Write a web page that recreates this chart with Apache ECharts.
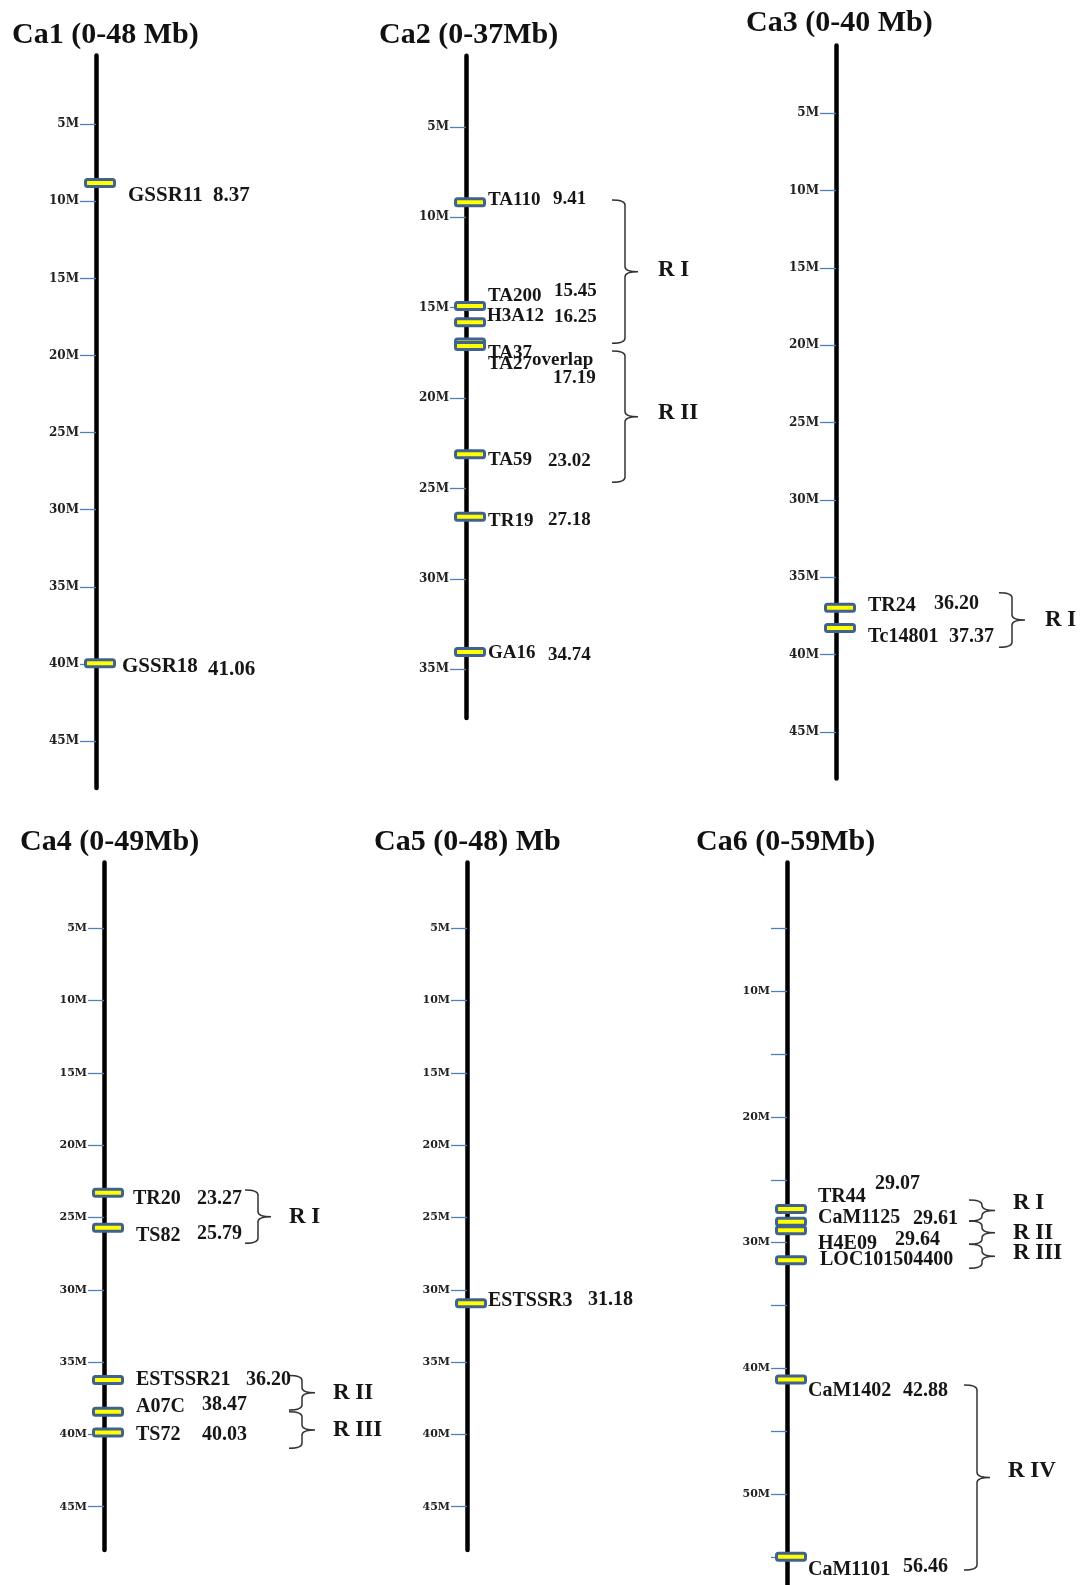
<!DOCTYPE html>
<html><head><meta charset="utf-8">
<script src="https://cdn.jsdelivr.net/npm/echarts@6/dist/echarts.min.js"></script>
<style>html,body{margin:0;padding:0;background:#fff}#chart{width:1081px;height:1585px}</style>
</head><body><div id="chart"></div>
<script>
// ---------------- DATA ----------------
const chromTitles = ['Ca1 (0-48 Mb)', 'Ca2 (0-37Mb)', 'Ca3 (0-40 Mb)', 'Ca4 (0-49Mb)', 'Ca5 (0-48) Mb', 'Ca6 (0-59Mb)'];
const tickValuesStd = [5, 10, 15, 20, 25, 30, 35, 40, 45];
const tickValuesCa6 = [5, 10, 15, 20, 25, 30, 35, 40, 45, 50, 55];
const tickLabelsCa6 = [10, 20, 30, 40, 50];

const ca1Names = ['GSSR11', 'GSSR18'];
const ca1Pos = [8.81, 39.96];
const ca1Values = ['8.37', '41.06'];
const ca1Notes = ['', ''];
const ca1Regions = [];

const ca2Names = ['TA110', 'TA200', 'H3A12', 'TA37', 'TA27', 'TA59', 'TR19', 'GA16'];
const ca2Pos = [9.17, 14.9, 15.8, 16.93, 17.12, 23.1, 26.56, 34.05];
const ca2Values = ['9.41', '15.45', '16.25', '', '17.19', '23.02', '27.18', '34.74'];
const ca2Notes = ['', '', '', '', 'overlap', '', '', ''];
const ca2Regions = [[9.04, 16.97, 'R I'], [17.39, 24.66, 'R II']];

const ca3Names = ['TR24', 'Tc14801'];
const ca3Pos = [36.97, 38.28];
const ca3Values = ['36.20', '37.37'];
const ca3Notes = ['', ''];
const ca3Regions = [[36.0, 39.53, 'R I']];

const ca4Names = ['TR20', 'TS82', 'ESTSSR21', 'A07C', 'TS72'];
const ca4Pos = [23.28, 25.7, 36.24, 38.43, 39.86];
const ca4Values = ['23.27', '25.79', '36.20', '38.47', '40.03'];
const ca4Notes = ['', '', '', '', ''];
const ca4Regions = [[23.1, 26.78, 'R I'], [35.92, 38.31, 'R II'], [38.43, 40.96, 'R III']];

const ca5Names = ['ESTSSR3'];
const ca5Pos = [30.93];
const ca5Values = ['31.18'];
const ca5Notes = [''];
const ca5Regions = [];

const ca6Names = ['TR44', 'CaM1125', 'H4E09', 'LOC101504400', 'CaM1402', 'CaM1101'];
const ca6Pos = [27.33, 28.34, 29.02, 31.4, 40.9, 55.0];
const ca6Values = ['29.07', '29.61', '29.64', '', '42.88', '56.46'];
const ca6Notes = ['', '', '', '', '', ''];
const ca6Regions = [[26.61, 28.28, 'R I'], [28.28, 30.14, 'R II'], [30.14, 32.04, 'R III'], [41.33, 56.05, 'R IV']];

// ---------------- LAYOUT ----------------
// lab: [nameDx, nameDy, valueDx, valueDy, noteDx, noteDy]; reg: [verticalDx, labelDx, labelDy]
const panels = [
  {names: ca1Names, pos: ca1Pos, values: ca1Values, notes: ca1Notes, regions: ca1Regions,
   axisX: 96, top: 55.6, bottom: 788, min: 0.55, max: 48.05, ticks: tickValuesStd, labels: tickValuesStd,
   tickFont: 12, nameFont: 21, titleX: 12, titleY: 35,
   lab: [[32, 13, 117, 13], [26, 3, 112, 6]], reg: []},
  {names: ca2Names, pos: ca2Pos, values: ca2Values, notes: ca2Notes, regions: ca2Regions,
   axisX: 466, top: 55.7, bottom: 718.1, min: 1.06, max: 37.7, ticks: tickValuesStd.slice(0, 7), labels: tickValuesStd.slice(0, 7),
   tickFont: 12, nameFont: 19, titleX: 379, titleY: 35,
   lab: [[22, -2, 87, -3], [22, -10, 88, -15], [21, -6, 88, -5], [22, 10, 0, 0], [22, 18, 87, 32, 66, 14],
         [22, 6, 82, 7], [22, 4, 82, 3], [22, 1, 82, 3]],
   reg: [[159, 192, -2], [159, 192, -4]]},
  {names: ca3Names, pos: ca3Pos, values: ca3Values, notes: ca3Notes, regions: ca3Regions,
   axisX: 836, top: 45.5, bottom: 778.4, min: 0.63, max: 48.0, ticks: tickValuesStd, labels: tickValuesStd,
   tickFont: 12, nameFont: 20, titleX: 746, titleY: 23,
   lab: [[32, -2, 98, -4], [32, 9, 113, 9]], reg: [[176, 209, 0]]},
  {names: ca4Names, pos: ca4Pos, values: ca4Values, notes: ca4Notes, regions: ca4Regions,
   axisX: 104, top: 862.5, bottom: 1550.1, min: 0.45, max: 48.0, ticks: tickValuesStd, labels: tickValuesStd,
   tickFont: 11, nameFont: 20, titleX: 20, titleY: 842,
   lab: [[29, 6, 93, 6], [32, 8, 93, 6], [32, 0, 142, 0], [32, -5, 98, -7], [32, 2, 98, 2]],
   reg: [[154, 185, 0], [198, 229, 0], [198, 229, 0]]},
  {names: ca5Names, pos: ca5Pos, values: ca5Values, notes: ca5Notes, regions: ca5Regions,
   axisX: 467, top: 862.5, bottom: 1550.1, min: 0.45, max: 48.0, ticks: tickValuesStd, labels: tickValuesStd,
   tickFont: 11, nameFont: 20, titleX: 374, titleY: 842,
   lab: [[21, -2, 121, -3]], reg: []},
  {names: ca6Names, pos: ca6Pos, values: ca6Values, notes: ca6Notes, regions: ca6Regions,
   axisX: 787, top: 862.5, bottom: 1584.5, min: -0.24, max: 57.2, ticks: tickValuesCa6, labels: tickLabelsCa6,
   tickFont: 11, nameFont: 20, titleX: 696, titleY: 842,
   lab: [[31, -12, 88, -25], [31, -4, 126, -3], [31, 14, 108, 10], [33, 0, 0, 0], [21, 11, 116, 11], [21, 13, 116, 10]],
   reg: [[195, 226, -7], [195, 226, 0], [195, 226, -3], [190, 221, -6]]}
];

const SERIF = "'Liberation Serif','Times New Roman',serif";
const TXT = '#161616';

const chart = echarts.init(document.getElementById('chart'), null, {renderer: 'canvas'});

const grids = [], xAxes = [], yAxes = [], series = [], titles = [];
panels.forEach((p, i) => {
  grids.push({left: p.axisX, top: p.top, height: p.bottom - p.top, width: 200, outerBoundsMode: 'none', containLabel: false});
  xAxes.push({gridIndex: i, type: 'value', min: 0, max: 1, show: false});
  yAxes.push({
    gridIndex: i, type: 'value', inverse: true, min: p.min, max: p.max, position: 'left',
    axisLine: {show: true, onZero: false, lineStyle: {color: '#000', width: 4.5}},
    axisTick: {show: true, customValues: p.ticks, length: 16, lineStyle: {color: '#4f81bd', width: 1.3}},
    axisLabel: {show: true, customValues: p.labels, margin: 17, formatter: v => v + 'M',
      fontFamily: "'DejaVu Serif',serif", fontWeight: 'bold', fontSize: p.tickFont, color: '#222'},
    splitLine: {show: false}
  });
  titles.push({text: chromTitles[i], left: p.titleX, top: p.titleY - 16, padding: 0,
    textStyle: {fontFamily: SERIF, fontWeight: 'bold', fontSize: 30, lineHeight: 32, color: '#111'}});

  // markers + labels
  series.push({
    type: 'custom', xAxisIndex: i, yAxisIndex: i, z: 5, clip: false, silent: true,
    data: p.pos.map((v, k) => [0, v, k]),
    encode: {x: 0, y: 1},
    renderItem: (params, api) => {
      const k = api.value(2);
      const c = api.coord([0, api.value(1)]);
      const L = p.lab[k];
      const font = 'bold ' + p.nameFont + 'px ' + SERIF;
      const ch = [
        {type: 'rect', shape: {x: c[0] - 10.5, y: c[1] - 3.5, width: 29, height: 7, r: 2},
         style: {fill: '#ffff00', stroke: '#41628f', lineWidth: 3}},
        {type: 'text', x: c[0] + L[0], y: c[1] + L[1],
         style: {text: p.names[k], font: font, fill: TXT, verticalAlign: 'middle', align: 'left'}}
      ];
      if (p.values[k]) ch.push({type: 'text', x: c[0] + L[2], y: c[1] + L[3],
         style: {text: p.values[k], font: font, fill: TXT, verticalAlign: 'middle', align: 'left'}});
      if (p.notes[k]) ch.push({type: 'text', x: c[0] + L[4], y: c[1] + L[5],
         style: {text: p.notes[k], font: font, fill: TXT, verticalAlign: 'middle', align: 'left'}});
      return {type: 'group', children: ch};
    }
  });

  // region brackets
  if (p.regions.length) {
    series.push({
      type: 'custom', xAxisIndex: i, yAxisIndex: i, z: 4, clip: false, silent: true,
      data: p.regions.map((r, k) => [0, r[0], r[1], k]),
      encode: {x: 0, y: [1, 2]},
      renderItem: (params, api) => {
        const k = api.value(3);
        const a = api.coord([0, api.value(1)]);
        const b = api.coord([0, api.value(2)]);
        const R = p.reg[k];
        const X = a[0] + R[0];
        const y0 = a[1], y1 = b[1], ym = (y0 + y1) / 2;
        const s = 13, t = 13, r = Math.min(5, (y1 - y0) / 4);
        const d = `M${X - s},${y0} Q${X},${y0} ${X},${y0 + r} L${X},${ym - r} Q${X},${ym} ${X + t},${ym} ` +
                  `M${X + t},${ym} Q${X},${ym} ${X},${ym + r} L${X},${y1 - r} Q${X},${y1} ${X - s},${y1}`;
        return {type: 'group', children: [
          {type: 'path', shape: {pathData: d}, style: {fill: 'none', stroke: '#333', lineWidth: 1.5}},
          {type: 'text', x: a[0] + R[1], y: ym + R[2],
           style: {text: p.regions[k][2], font: 'bold 23px ' + SERIF, fill: TXT, verticalAlign: 'middle', align: 'left'}}
        ]};
      }
    });
  }
});

chart.setOption({
  backgroundColor: '#fff',
  animation: false,
  title: titles,
  grid: grids,
  xAxis: xAxes,
  yAxis: yAxes,
  series: series
});
</script></body></html>
